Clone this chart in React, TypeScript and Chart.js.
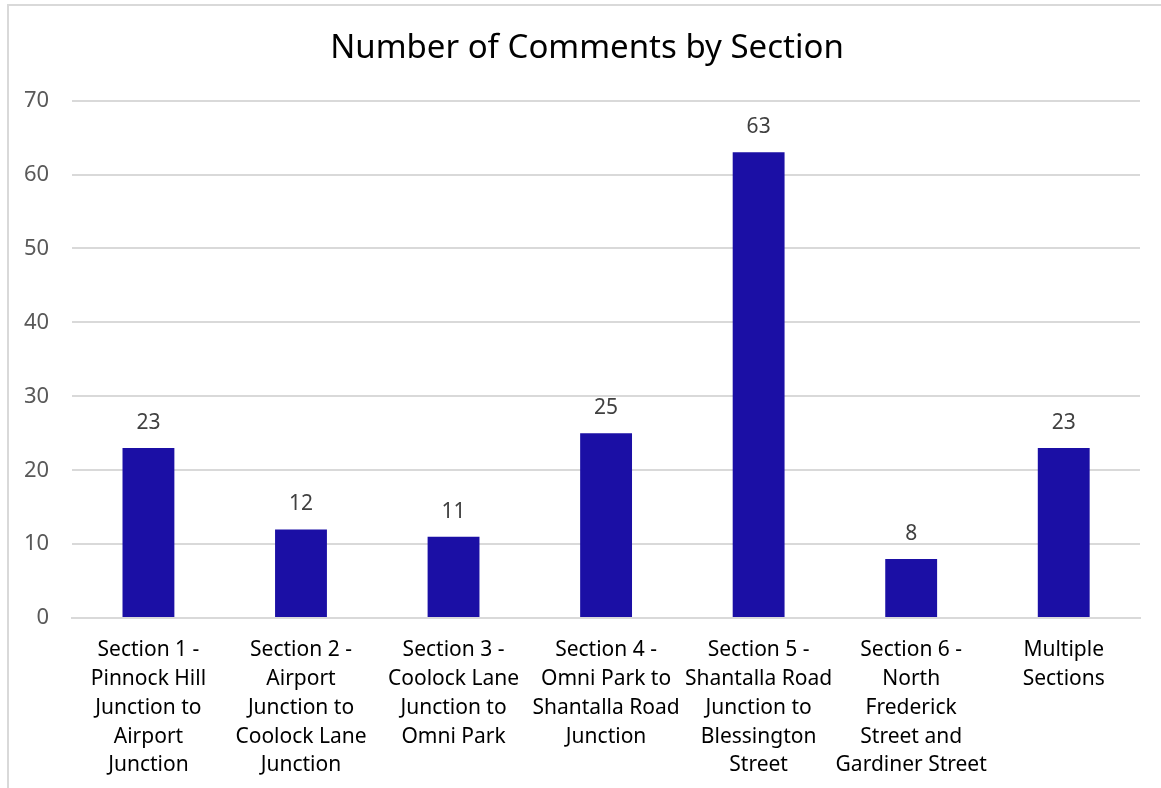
import React, { useEffect, useRef } from "react";
import { Chart, registerables } from "chart.js";

Chart.register(...registerables);

const categories: string[][] = [
  ["Section 1 -", "Pinnock Hill", "Junction to", "Airport", "Junction"],
  ["Section 2 -", "Airport", "Junction to", "Coolock Lane", "Junction"],
  ["Section 3 -", "Coolock Lane", "Junction to", "Omni Park"],
  ["Section 4 -", "Omni Park to", "Shantalla Road", "Junction"],
  ["Section 5 -", "Shantalla Road", "Junction to", "Blessington", "Street"],
  ["Section 6 -", "North", "Frederick", "Street and", "Gardiner Street"],
  ["Multiple", "Sections"],
];
const commentCounts: number[] = [23, 12, 11, 25, 63, 8, 23];
const titleText = "Number of Comments by Section";

const FONT = "'Noto Sans', 'Open Sans', sans-serif";

const valueLabels = {
  id: "valueLabels",
  afterDatasetsDraw(chart: any) {
    const ctx = chart.ctx;
    const meta = chart.getDatasetMeta(0);
    ctx.save();
    ctx.font = `21px ${FONT}`;
    ctx.fillStyle = "#404040";
    ctx.textAlign = "center";
    ctx.textBaseline = "middle";
    meta.data.forEach((bar: any, i: number) => {
      ctx.fillText(String(commentCounts[i]), bar.x, bar.y - 25);
    });
    // title, centred like the reference (space reserved by the title plugin)
    const t = chart.titleBlock;
    if (t) {
      ctx.font = `33px ${FONT}`;
      ctx.fillStyle = "#000000";
      ctx.fillText(titleText, 587, t.top + t.height / 2 - 16);
    }
    ctx.restore();
  },
};

export default function App() {
  const ref = useRef<HTMLCanvasElement>(null);
  useEffect(() => {
    if (!ref.current) return;
    const chart = new Chart(ref.current, {
      type: "bar",
      data: {
        labels: categories,
        datasets: [
          {
            data: commentCounts,
            backgroundColor: "#1B0FA5",
            barPercentage: 0.34,
            categoryPercentage: 1,
          },
        ],
      },
      options: {
        animation: false,
        responsive: false,
        maintainAspectRatio: false,
        layout: { padding: { left: 1, right: 21, top: 29, bottom: 8 } },
        plugins: {
          legend: { display: false },
          tooltip: { enabled: false },
          title: {
            display: true,
            text: titleText,
            color: "rgba(0,0,0,0)",
            font: { family: FONT, size: 33, weight: "normal" },
            padding: { top: 0, bottom: 32 },
          },
        },
        scales: {
          x: {
            grid: { display: false },
            border: { display: true, color: "#d9d9d9", width: 2 },
            ticks: {
              color: "#000000",
              font: { family: FONT, size: 21, lineHeight: 1.38 },
              maxRotation: 0,
              autoSkip: false,
              padding: 9,
            },
          },
          y: {
            min: 0,
            max: 70,
            border: { display: false },
            grid: { color: "#d9d9d9", lineWidth: 2, drawTicks: false },
            ticks: {
              stepSize: 10,
              color: "#595959",
              font: { family: FONT, size: 22 },
              padding: 23,
            },
          },
        },
      },
      plugins: [valueLabels],
    });
    return () => chart.destroy();
  }, []);
  return (
    <div style={{ position: "fixed", left: 0, top: 0, width: 1161, height: 788, overflow: "hidden", background: "#fff" }}>
      <div
        style={{
          position: "absolute",
          left: 7,
          top: 4,
          width: 1160,
          height: 800,
          border: "2px solid #d9d9d9",
          boxSizing: "border-box",
        }}
      />
      <canvas ref={ref} width={1161} height={797} style={{ position: "absolute", left: 0, top: 0 }} />
    </div>
  );
}
